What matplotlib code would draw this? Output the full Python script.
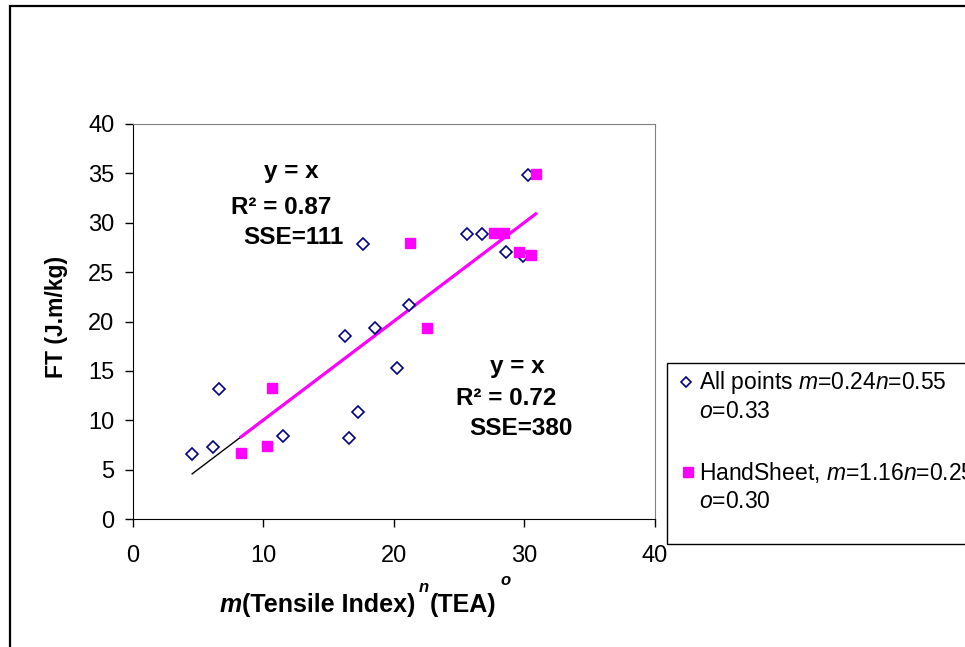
import matplotlib
matplotlib.use("Agg")
import matplotlib.pyplot as plt
from matplotlib.patches import Rectangle
from matplotlib.lines import Line2D

plt.rcParams['font.family'] = ['Liberation Sans', 'DejaVu Sans']
plt.rcParams['mathtext.fontset'] = 'custom'
plt.rcParams['mathtext.rm'] = 'Liberation Sans'
plt.rcParams['mathtext.it'] = 'Liberation Sans:italic'
plt.rcParams['mathtext.bf'] = 'Liberation Sans:bold'

# Datos
todos_x = [4.57, 6.18, 6.6, 11.5, 16.3, 16.6, 17.3, 17.7, 18.6, 20.25, 21.2, 25.6, 26.8, 28.6, 29.9, 30.3]
todos_y = [6.6, 7.3, 13.2, 8.4, 18.5, 8.2, 10.8, 27.8, 19.3, 15.3, 21.7, 28.9, 28.9, 27.0, 26.6, 34.8]

hoja_x = [8.32, 10.3, 10.7, 21.3, 22.6, 27.7, 28.5, 29.6, 30.5, 30.9]
hoja_y = [6.7, 7.4, 13.3, 27.9, 19.3, 29.0, 29.0, 27.0, 26.7, 34.9]

# Lineas de tendencia y = x
linea_todos = [min(todos_x), max(todos_x)]
linea_hoja = [min(hoja_x), max(hoja_x)]

x_ticks = [0, 10, 20, 30, 40]
y_ticks = [0, 5, 10, 15, 20, 25, 30, 35, 40]

azul = '#000080'
rosa = '#FF00FF'

fig = plt.figure(figsize=(9.65, 6.47), dpi=100)
W, H = 965, 647

# Borde exterior (sale del recorte por la derecha y abajo)
fig.add_artist(Rectangle((10 / W, -0.1), 1.2, (1 - 6 / H) + 0.1, transform=fig.transFigure,
                         fill=False, edgecolor='black', linewidth=1.6))

ax = fig.add_axes([132.5 / W, 128 / H, 522 / W, 395 / H])

ax.plot(linea_todos, linea_todos, color='black', linewidth=1.0, zorder=2)
ax.plot(linea_hoja, linea_hoja, color=rosa, linewidth=2.3, zorder=3)
ax.plot(todos_x, todos_y, linestyle='none', marker='D', markersize=6.5,
        markerfacecolor='white', markeredgecolor=azul, markeredgewidth=1.2, zorder=4)
ax.plot(hoja_x, hoja_y, linestyle='none', marker='s', markersize=7,
        markerfacecolor=rosa, markeredgecolor=rosa, zorder=5)

ax.set_xlim(0, 40)
ax.set_ylim(0, 40)
ax.set_xticks(x_ticks)
ax.set_yticks(y_ticks)
ax.tick_params(direction='out', length=6, width=1, labelsize=17)
ax.tick_params(axis='x', pad=13)
ax.tick_params(axis='y', pad=7)
for lado in ['top', 'right']:
    ax.spines[lado].set_color('#808080')
for lado in ['left', 'bottom']:
    ax.spines[lado].set_color('black')

# Anotaciones
kw = dict(ha='center', va='baseline', fontsize=17.5, fontweight='bold')
ax.text(12.18, 34.5, 'y = x', **kw)
ax.text(11.36, 30.9, 'R² = 0.87', **kw)
ax.text(12.36, 27.85, 'SSE=111', **kw)
ax.text(29.49, 14.75, 'y = x', **kw)
ax.text(28.67, 11.54, 'R² = 0.72', **kw)
ax.text(29.73, 8.5, 'SSE=380', **kw)

# Etiqueta del eje y
fig.text(57 / W, 1 - 317 / H, 'FT (J.m/kg)', rotation=90, ha='center', va='center',
         fontsize=16.5, fontweight='bold')

# Etiqueta del eje x, por piezas encadenadas (pixeles)
renderer = fig.canvas.get_renderer()
piezas = [
    ('m', 18, 'italic', 0, 0),
    ('(Tensile Index)', 18, 'normal', 0, 0),
    ('n', 12, 'italic', 20, 3),
    ('(TEA)', 18, 'normal', 0, 1),
    ('o', 12, 'italic', 27, 4),
]
x = 220
for s, tam, estilo, dy, dx in piezas:
    t = fig.text(x + dx, 647 - 612 + dy, s, transform=None, fontsize=tam, fontweight='bold',
                 fontstyle=estilo, ha='left', va='baseline')
    x = t.get_window_extent(renderer).x1

# Leyenda manual
fig.add_artist(Rectangle((667 / W, 1 - 544 / H), 0.5, 181 / H, transform=fig.transFigure,
                         fill=False, edgecolor='black', linewidth=1.0))
fig.add_artist(Line2D([686 / W], [1 - 382 / H], marker='D', markersize=5.5, linestyle='none',
                      markerfacecolor='white', markeredgecolor=azul, markeredgewidth=1.2,
                      transform=fig.transFigure))
fig.add_artist(Line2D([688 / W], [1 - 472 / H], marker='s', markersize=6.5, linestyle='none',
                      markerfacecolor=rosa, markeredgecolor=rosa, transform=fig.transFigure))
kl = dict(fontsize=16.5, ha='left', va='baseline')
fig.text(699 / W, 1 - 389 / H, 'All points $m$=0.24$n$=0.55', **kl)
fig.text(699 / W, 1 - 418 / H, '$o$=0.33', **kl)
fig.text(699 / W, 1 - 480 / H, 'HandSheet, $m$=1.16$n$=0.25', **kl)
fig.text(699 / W, 1 - 508 / H, '$o$=0.30', **kl)

fig.savefig('out.png', dpi=100)
